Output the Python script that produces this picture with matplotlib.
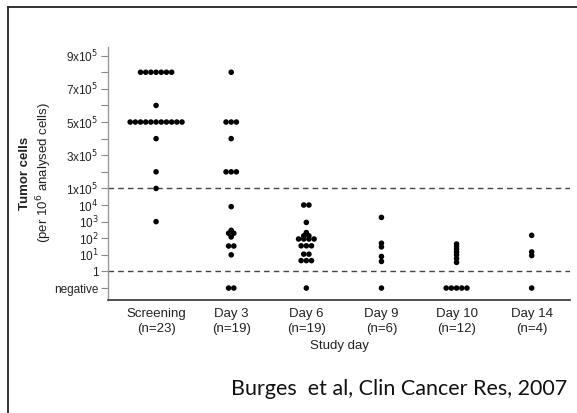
import numpy as np
import matplotlib
matplotlib.use("Agg")
import matplotlib.pyplot as plt
from matplotlib.lines import Line2D

# Tumor cells per 10^6 analysed cells; 0 means "negative"
categories = ["Screening\n(n=23)", "Day 3\n(n=19)", "Day 6\n(n=19)",
              "Day 9\n(n=6)", "Day 10\n(n=12)", "Day 14\n(n=4)"]

screening = [8e5] * 7 + [6e5] + [5e5] * 11 + [4e5, 2e5, 1e5, 1e3]
day3 = [8e5] + [5e5] * 3 + [4e5] + [2e5] * 3 + [8e3, 300, 200, 200, 150, 120,
                                                 34, 34, 10, 0, 0]
day6 = [1e4, 1e4, 900, 220, 140, 140, 90, 90, 90, 90, 35, 35, 35,
        11, 11, 4.5, 4.5, 4.5, 0]
day9 = [1800, 50, 30, 8, 4, 0]
day10 = [45, 32, 22, 15, 10, 6, 3.5, 0, 0, 0, 0, 0]
day14 = [150, 15, 9, 0]

series = [screening, day3, day6, day9, day10, day14]

tick_pos = list(range(15))
tick_labels = ["negative", "1", r"10$^1$", r"10$^2$", r"10$^3$", r"10$^4$",
               r"1x10$^5$", "", r"3x10$^5$", "", r"5x10$^5$", "",
               r"7x10$^5$", "", r"9x10$^5$"]


def to_axis(v):
    """Map a cell count onto the composite (negative / log / linear) axis."""
    v = float(v)
    if v <= 0:
        return 0.0
    if v <= 1e5:
        return 1.0 + np.log10(v)
    return 6.0 + (v - 1e5) / 1e5


plt.rcParams["font.family"] = ["Liberation Sans", "DejaVu Sans"]

fig = plt.figure(figsize=(5.77, 4.13), dpi=100)
ax = fig.add_axes([108 / 577, 1 - 300 / 413, (570 - 108) / 577, (300 - 47) / 413])

ax.set_xlim(-0.64, 5.51)
ax.set_ylim(-0.72, 14.52)

# horizontal spread for equal values within a column
spread = 0.069
for i, vals in enumerate(series):
    uniq, counts = np.unique(vals, return_counts=True)
    xs, ys = [], []
    for u, c in zip(uniq, counts):
        offs = (np.arange(c) - (c - 1) / 2) * spread
        xs.extend(i + offs)
        ys.extend([to_axis(u)] * c)
    ax.scatter(xs, ys, s=16, color="black", edgecolors="none", zorder=3)

for level in (1e5, 1):
    ax.axhline(to_axis(level), color="#444444", lw=1.0,
               dashes=(4, 3), zorder=1)

ax.set_yticks(tick_pos)
ax.set_yticklabels(tick_labels, fontsize=8.5, color="#222222")
ax.tick_params(axis="y", length=5, width=0.8, color="#888888", pad=2)

ax.set_xticks(range(len(categories)))
ax.set_xticklabels(categories, fontsize=9.5, color="#222222", linespacing=1.25)
ax.tick_params(axis="x", length=0, pad=6)

for side in ("top", "right"):
    ax.spines[side].set_visible(False)
ax.spines["left"].set_color("#999999")
ax.spines["left"].set_linewidth(1.0)
ax.spines["bottom"].set_color("#333333")
ax.spines["bottom"].set_linewidth(1.2)

fig.text(339 / 577, 1 - 346 / 413, "Study day", ha="center", va="center",
         fontsize=9.5, color="#222222")

fig.text(25 / 577, 1 - 173 / 413, "Tumor cells", rotation=90, ha="center",
         va="center", fontsize=9.5, fontweight="bold", color="#222222")
fig.text(44 / 577, 1 - 173 / 413, r"(per 10$^6$ analysed cells)", rotation=90,
         ha="center", va="center", fontsize=9.5, color="#222222")

fig.text(567 / 577, 1 - 389 / 413, "Burges  et al, Clin Cancer Res, 2007",
         ha="right", va="center", fontsize=15.5, family=["Lato", "DejaVu Sans"],
         color="#111111")

# frame around the slide
fig.add_artist(Line2D([8 / 577, 8 / 577], [0, 1 - 7 / 413],
                      transform=fig.transFigure, color="#222222", lw=1.3))
fig.add_artist(Line2D([8 / 577, 1], [1 - 7 / 413, 1 - 7 / 413],
                      transform=fig.transFigure, color="#222222", lw=1.3))

fig.savefig("out.png", dpi=100)
